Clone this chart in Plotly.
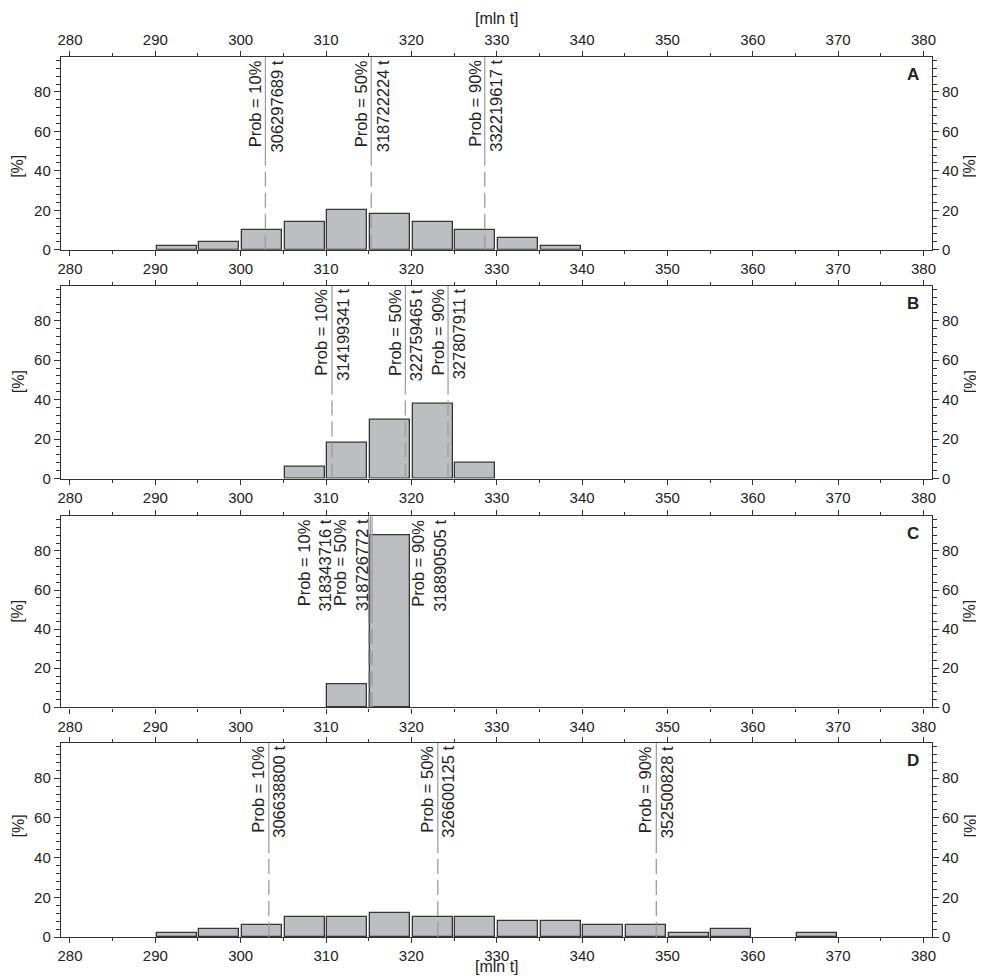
import plotly.graph_objects as go

# ---------------- data ----------------
x_tick_vals = [280, 290, 300, 310, 320, 330, 340, 350, 360, 370, 380]
y_tick_vals = [0, 20, 40, 60, 80]
bin_width = 5
panel_names = ["A", "B", "C", "D"]

a_bins = [290, 295, 300, 305, 310, 315, 320, 325, 330, 335]
a_pct = [2, 4, 10, 14, 20, 18, 14, 10, 6, 2]
b_bins = [305, 310, 315, 320, 325]
b_pct = [6, 18, 30, 38, 8]
c_bins = [310, 315]
c_pct = [12, 88]
d_bins = [290, 295, 300, 305, 310, 315, 320, 325, 330, 335, 340, 345, 350, 355, 365]
d_pct = [2, 4, 6, 10, 10, 12, 10, 10, 8, 8, 6, 6, 2, 4, 2]

prob_labels = ["Prob = 10%", "Prob = 50%", "Prob = 90%"]
a_values = ["306297689 t", "318722224 t", "332219617 t"]
b_values = ["314199341 t", "322759465 t", "327807911 t"]
c_values = ["318343716 t", "318726772 t", "318890505 t"]
d_values = ["306638800 t", "326600125 t", "352500828 t"]

# positions of the quantile lines as drawn
a_lines = [302.9, 315.3, 328.6]
b_lines = [310.7, 319.3, 324.3]
c_lines = [315.0, 315.2, 315.4]
d_lines = [303.3, 323.1, 348.7]
# label centres
a_label_x = a_lines
b_label_x = b_lines
c_label_x = [308.6, 312.9, 322.0]
d_label_x = d_lines

panels = [
    (a_bins, a_pct, a_values, a_lines, a_label_x),
    (b_bins, b_pct, b_values, b_lines, b_label_x),
    (c_bins, c_pct, c_values, c_lines, c_label_x),
    (d_bins, d_pct, d_values, d_lines, d_label_x),
]

# ---------------- style ----------------
FONT = "Liberation Sans, Arial, Helvetica, sans-serif"
AX = "#333333"
TXT = "#222222"
BAR_FILL = "#bdbec2"
BAR_LINE = "#363636"
QLINE = "#9c9c9c"
X_RANGE = [278.95, 381.0]
Y_RANGE = [0, 97.7]
SPLIT = 46
domains = [[0.781, 1.0], [0.521, 0.740], [0.261, 0.478], [0.0, 0.2205]]
# the page body has an 8px margin; the figure is shrunk/shifted to compensate
PAGE_PAD = 8


def xid(i):
    return "x" if i == 1 else f"x{i}"


def yid(i):
    return "y" if i == 1 else f"y{i}"


def xkey(i):
    return "xaxis" if i == 1 else f"xaxis{i}"


def ykey(i):
    return "yaxis" if i == 1 else f"yaxis{i}"


fig = go.Figure()
shapes = []
annotations = []

for i, (bins, pct, vals, lines, label_x) in enumerate(panels, start=1):
    xa, ya = xid(i), yid(i)
    fig.add_trace(go.Bar(
        x=[b + bin_width / 2 for b in bins], y=pct, width=bin_width * 0.94,
        marker=dict(color=BAR_FILL, line=dict(color=BAR_LINE, width=1.3)),
        xaxis=xa, yaxis=ya, showlegend=False, hoverinfo="skip",
    ))
    for lx, tx, pl, vl in zip(lines, label_x, prob_labels, vals):
        shapes.append(dict(type="line", xref=xa, yref=ya, x0=lx, x1=lx, y0=0, y1=SPLIT,
                           line=dict(color=QLINE, width=1.3, dash="15px,6px")))
        shapes.append(dict(type="line", xref=xa, yref=ya, x0=lx, x1=lx, y0=SPLIT, y1=Y_RANGE[1],
                           line=dict(color=QLINE, width=1.2)))
        annotations.append(dict(
            x=tx, xref=xa, y=1, yref=f"{ya} domain", yanchor="top", xanchor="center",
            yshift=-1, text=f"{pl}<br>{vl}", textangle=-90, align="right", showarrow=False,
            font=dict(family=FONT, size=16.5, color=TXT),
        ))
    annotations.append(dict(
        x=0.978, xref=f"{xa} domain", y=0.91, yref=f"{ya} domain",
        text=f"<b>{panel_names[i-1]}</b>",
        showarrow=False, xanchor="center", yanchor="middle",
        font=dict(family=FONT, size=17, color=TXT),
    ))

    # invisible trace for right-side y axis
    fig.add_trace(go.Scatter(x=[None], y=[None], xaxis=xa, yaxis=f"y{i+4}",
                             showlegend=False, hoverinfo="skip"))

# invisible trace for top x axis of panel A
fig.add_trace(go.Scatter(x=[None], y=[None], xaxis="x5", yaxis="y",
                         showlegend=False, hoverinfo="skip"))

xcommon = dict(range=X_RANGE, autorange=False, tickvals=x_tick_vals, ticks="outside", ticklen=5,
               tickwidth=1.2, tickcolor=AX, showline=True, linecolor=AX, linewidth=1.4,
               showgrid=False, zeroline=False, automargin=False,
               minor=dict(dtick=5, tick0=280, ticks="outside", ticklen=3, tickcolor=AX, tickwidth=1.2),
               tickfont=dict(family=FONT, size=15, color=TXT))
ycommon = dict(range=Y_RANGE, autorange=False, tickvals=y_tick_vals, ticks="outside", ticklen=6,
               tickwidth=1.2, tickcolor=AX, showline=True, linecolor=AX, linewidth=1.4,
               showgrid=False, zeroline=False, automargin=False,
               minor=dict(dtick=4, tick0=0, ticks="outside", ticklen=3.5, tickcolor=AX, tickwidth=1.2),
               tickfont=dict(family=FONT, size=15, color=TXT))

layout = dict(
    width=984 - PAGE_PAD, height=979 - PAGE_PAD, plot_bgcolor="white", paper_bgcolor="white",
    margin=dict(l=61 - PAGE_PAD, r=52, t=57 - PAGE_PAD, b=42, autoexpand=False),
    bargap=0, showlegend=False,
    shapes=shapes, annotations=annotations,
)
for i in range(1, 5):
    layout[xkey(i)] = dict(xcommon, domain=[0, 1], anchor=yid(i), mirror="ticks")
    layout[ykey(i)] = dict(ycommon, domain=domains[i-1], anchor=xid(i), mirror="ticks", side="left")
    layout[f"yaxis{i+4}"] = dict(ycommon, overlaying=yid(i), anchor=xid(i), side="right", showline=False)
layout["xaxis5"] = dict(xcommon, overlaying="x", anchor="y", side="top", showline=False)

fig.update_layout(**layout)

# axis titles
title_font = dict(family=FONT, size=16, color=TXT)
fig.add_annotation(x=0.5, xref="paper", y=1, yref="paper", yshift=39, text="[mln t]",
                   showarrow=False, yanchor="middle", font=title_font)
fig.add_annotation(x=0.5, xref="paper", y=0, yref="paper", yshift=-29, text="[mln t]",
                   showarrow=False, yanchor="middle", font=title_font)
for i in range(1, 5):
    mid = sum(domains[i-1]) / 2
    fig.add_annotation(x=0, xref="paper", xshift=-43, y=mid, yref="paper", text="[%]",
                       textangle=-90, showarrow=False, xanchor="center", font=title_font)
    fig.add_annotation(x=1, xref="paper", xshift=38, y=mid, yref="paper", text="[%]",
                       textangle=-90, showarrow=False, xanchor="center", font=title_font)

fig.write_html("out.html")
